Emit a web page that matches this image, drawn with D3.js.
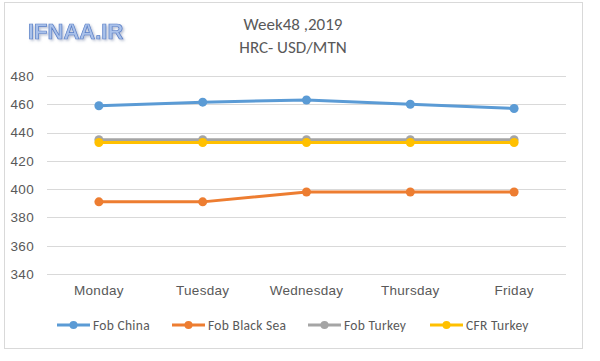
<!DOCTYPE html>
<html><head><meta charset="utf-8">
<script src="https://cdn.jsdelivr.net/npm/d3@7"></script>
<style>html,body{margin:0;padding:0;background:#fff;}svg{display:block;font-family:Calibri,Carlito,"Liberation Sans","Open Sans",sans-serif;}</style>
</head><body>
<svg id="c" width="600" height="361"></svg>
<script>
const categories = ["Monday","Tuesday","Wednesday","Thursday","Friday"];
const seriesNames = ["Fob China","Fob Black Sea","Fob Turkey","CFR Turkey"];
const fobChina = [459, 461.5, 463, 460, 457];
const fobBlackSea = [391, 391, 398, 398, 398];
const fobTurkey = [435, 435, 435, 435, 435];
const cfrTurkey = [433, 433, 433, 433, 433];
const yTicks = [340,360,380,400,420,440,460,480];
const colors = ["#5B9BD5","#ED7D31","#A5A5A5","#FFC000"];
const titleLines = ["Week48 ,2019","HRC- USD/MTN"];

const series = [fobChina, fobBlackSea, fobTurkey, cfrTurkey];
const svg = d3.select("#c");

const defs = svg.append("defs");
const f = defs.append("filter").attr("id","sh").attr("x","-10%").attr("y","-20%").attr("width","130%").attr("height","150%");
f.append("feDropShadow").attr("dx",1.5).attr("dy",1.5).attr("stdDeviation",0.8)
  .attr("flood-color","#7f8fb0").attr("flood-opacity",0.55);

svg.append("rect").attr("x",4.5).attr("y",2.5).attr("width",578).attr("height",346)
  .attr("fill","#fff").attr("stroke","#d9d9d9");

const x = d3.scaleBand().domain(categories).range([47,566]);
const y = d3.scaleLinear().domain([340,480]).range([274,76]);

// gridlines
svg.append("g").selectAll("line").data(yTicks).join("line")
  .attr("x1",47).attr("x2",566).attr("y1",d=>Math.round(y(d))+0.5).attr("y2",d=>Math.round(y(d))+0.5)
  .attr("stroke","#d9d9d9").attr("stroke-width",1);

// y axis labels
const yAxis = d3.axisLeft(y).tickValues(yTicks).tickSize(0).tickPadding(0);
const gy = svg.append("g").attr("transform","translate(34,0)").call(yAxis);
gy.select(".domain").remove();
gy.selectAll("text").attr("fill","#595959").style("font-size","13.5px").style("letter-spacing","0.3px");

// x axis labels
const xAxis = d3.axisBottom(x).tickSize(0).tickPadding(0);
const gx = svg.append("g").attr("transform","translate(0,285)").call(xAxis);
gx.select(".domain").remove();
gx.selectAll("text").attr("fill","#595959").style("font-size","13.5px").style("letter-spacing","0.3px");

const cx = d => x(d) + x.bandwidth()/2;
const line = d3.line().x((d,i)=>cx(categories[i])).y(d=>y(d));

series.forEach((s,k)=>{
  svg.append("path").datum(s).attr("d",line).attr("fill","none")
    .attr("stroke",colors[k]).attr("stroke-width",3).attr("stroke-linejoin","round");
  svg.append("g").selectAll("circle").data(s).join("circle")
    .attr("cx",(d,i)=>cx(categories[i])).attr("cy",d=>y(d)).attr("r",4.5)
    .attr("fill",colors[k]);
});

// titles
svg.append("g").selectAll("text").data(titleLines).join("text")
  .attr("x",293).attr("y",(d,i)=>30+i*23).attr("text-anchor","middle")
  .attr("fill","#595959").style("font-size","17px").text(d=>d);

// logo
svg.append("text").attr("x",28).attr("y",38.5).attr("fill","#a9c1ea")
  .style("font-size","22px").style("font-weight","bold").style("font-family","'Liberation Sans',Arial,sans-serif")
  .attr("stroke","#5a7fc6").attr("stroke-width",0.7).attr("filter","url(#sh)").text("IFNAA.IR");

// legend
const legX = [57,172,308,430];
const lg = svg.append("g").selectAll("g").data(seriesNames).join("g")
  .attr("transform",(d,i)=>`translate(${legX[i]},325)`);
lg.append("line").attr("x1",0).attr("x2",33).attr("y1",0).attr("y2",0)
  .attr("stroke",(d,i)=>colors[i]).attr("stroke-width",3);
lg.append("circle").attr("cx",16.5).attr("cy",0).attr("r",4).attr("fill",(d,i)=>colors[i]);
lg.append("text").attr("x",36).attr("y",4.8).attr("fill","#595959").style("font-size","13.5px")
  .style("letter-spacing","0.3px").text(d=>d);
</script>
</body></html>
